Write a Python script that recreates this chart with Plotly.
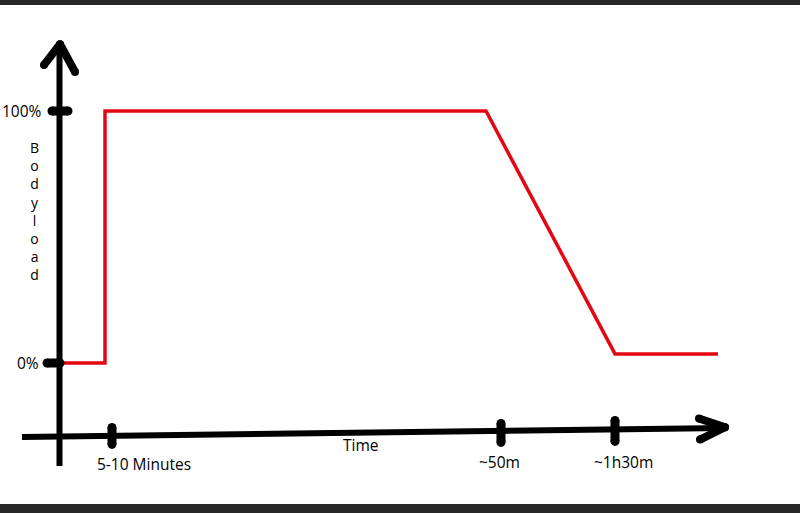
import plotly.graph_objects as go

# bodyload curve (time position, percent)
tempo = [2, 45, 45, 426, 555, 658]
carga = [0, 0, 100, 100, 3.6, 3.6]

# tick labels
rotulos_y = ["100%", "0%"]
valores_y = [100, 0]
rotulos_x = ["5-10 Minutes", "~50m", "~1h30m"]
valores_x = [52, 441, 555]
titulo_x = "Time"
titulo_y = "Bodyload"

COR_LINHA = "#e30613"
FONTE = "Open Sans"
ESCALA_Y = 2.52  # pixels per percent


def borrao(x0, y0, x1, y1, grossura=9):
    # thick marker-pen stroke with round ends
    formas = [dict(type="line", x0=x0, y0=y0, x1=x1, y1=y1,
                   line=dict(color="black", width=grossura))]
    rx = grossura / 2
    ry = grossura / 2 / ESCALA_Y
    for cx, cy in [(x0, y0), (x1, y1)]:
        formas.append(dict(type="circle", x0=cx - rx, x1=cx + rx, y0=cy - ry, y1=cy + ry,
                           fillcolor="black", line=dict(width=0)))
    return formas


def obter_figura():
    fig = go.Figure()

    fig.add_trace(go.Scatter(
        x=tempo, y=carga, mode="lines",
        line=dict(color=COR_LINHA, width=3.5),
        hoverinfo="skip", showlegend=False
    ))

    formas = []
    preto = dict(color="black", width=6)
    # hand drawn axes
    formas.append(dict(type="line", x0=-0.5, y0=-40.9, x1=-0.5, y1=126.5, line=preto))
    formas += borrao(-16, 118.3, 0, 126.5, 8)
    formas += borrao(0, 126.5, 15, 115.5, 8)
    formas.append(dict(type="line", x0=-38, y0=-29.4, x1=665, y1=-25.8, line=preto))
    formas += borrao(639, -22.0, 665, -25.5, 8)
    formas += borrao(665, -25.5, 640, -30.4, 8)

    # tick blobs
    formas += borrao(-8, 100, 8, 100)
    formas += borrao(-13, 0, 0, 0)
    topos = [-25.6, -24.0, -22.8]
    bases = [-32.3, -31.5, -31.1]
    for i in range(len(valores_x)):
        formas += borrao(valores_x[i], topos[i], valores_x[i], bases[i])

    # dark frame bars
    formas.append(dict(type="rect", xref="paper", yref="paper", x0=0, x1=1,
                       y0=1 - 5 / 513, y1=1, fillcolor="#282828", line=dict(width=0)))
    formas.append(dict(type="rect", xref="paper", yref="paper", x0=0, x1=1,
                       y0=0, y1=9 / 513, fillcolor="#282828", line=dict(width=0)))

    notas = []
    fonte = dict(family=FONTE, size=15.5, color="black")
    for i in range(len(rotulos_y)):
        notas.append(dict(x=[-16, -19][i], y=valores_y[i], text=rotulos_y[i],
                          xanchor="right", yanchor="middle", showarrow=False, font=fonte))

    pos_x = [83.5, 439, 563]
    for i in range(len(rotulos_x)):
        notas.append(dict(x=pos_x[i], y=[-40.1, -39.2, -39.2][i], text=rotulos_x[i],
                          xanchor="center", yanchor="middle", showarrow=False, font=fonte))

    notas.append(dict(x=301, y=-32.5, text=titulo_x, xanchor="center",
                      yanchor="middle", showarrow=False, font=fonte))

    # stacked letters, one per line
    notas.append(dict(x=-25.5, y=(363 - 211) / ESCALA_Y, text="<br>".join(titulo_y),
                      xanchor="center", yanchor="middle", align="center",
                      showarrow=False, font=dict(family=FONTE, size=14, color="black")))

    fig.update_layout(
        width=800, height=513,
        margin=dict(l=0, r=0, t=0, b=0),
        paper_bgcolor="white", plot_bgcolor="white",
        xaxis=dict(range=[-60, 740], visible=False, fixedrange=True),
        yaxis=dict(range=[-59.52, 144.05], visible=False, fixedrange=True),
        shapes=formas, annotations=notas,
    )
    return fig


if __name__ == "__main__":
    fig = obter_figura()
    fig.write_html("out.html", config={"displayModeBar": False},
                   post_script="document.body.style.margin='0';")
